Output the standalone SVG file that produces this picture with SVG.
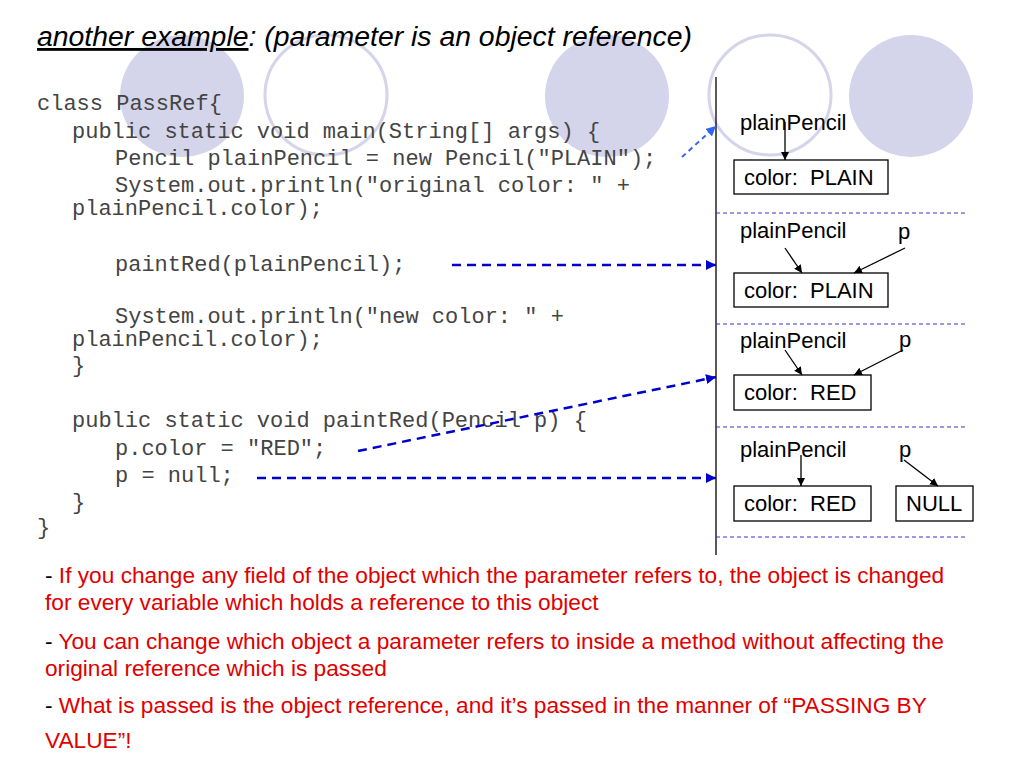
<svg xmlns="http://www.w3.org/2000/svg" width="1024" height="768" viewBox="0 0 1024 768">
<defs>
<style>
.title{font-family:"Liberation Sans",Arial,sans-serif;font-size:28.4px;font-style:italic;fill:#000}
.code{font-family:"Liberation Mono","Courier New",monospace;font-size:22px;fill:#444;white-space:pre}
.lbl{font-family:"Liberation Sans",Arial,sans-serif;font-size:22px;fill:#000;white-space:pre}
.note{font-family:"Liberation Sans",Arial,sans-serif;font-size:22.7px;fill:#e00000}
.dash{fill:#000}
.box{fill:#fff;stroke:#000;stroke-width:1.3}
.ref{stroke:#000;stroke-width:1.3;fill:none;marker-end:url(#ah)}
.sep{stroke:#3333cc;stroke-width:1;stroke-dasharray:4 3;fill:none}
.flow{stroke:#0000cc;stroke-width:2.5;stroke-dasharray:9 6;fill:none;marker-end:url(#bh)}
.deco-f{fill:#d4d4ea}
.deco-o{fill:none;stroke:#d4d4ea;stroke-width:3}
</style>
<marker id="ah" viewBox="0 0 10 10" refX="10" refY="5" markerWidth="8" markerHeight="8" markerUnits="userSpaceOnUse" orient="auto"><path d="M0,0 L10,5 L0,10 z" fill="#000"/></marker>
<marker id="bh" viewBox="0 0 10 10" refX="10" refY="5" markerWidth="4" markerHeight="4" orient="auto"><path d="M0,0 L10,5 L0,10 z" fill="#0000cc"/></marker>
<marker id="lh" viewBox="0 0 10 10" refX="10" refY="5" markerWidth="5" markerHeight="5" orient="auto"><path d="M0,0 L10,5 L0,10 z" fill="#3366ee"/></marker>
</defs>
<rect width="1024" height="768" fill="#fff"/>
<g id="decor">
<ellipse class="deco-f" cx="182" cy="96" rx="62" ry="61"/>
<ellipse class="deco-o" cx="326" cy="95" rx="61" ry="60"/>
<ellipse class="deco-f" cx="607" cy="96" rx="62" ry="61"/>
<ellipse class="deco-o" cx="770" cy="95" rx="61" ry="60"/>
<ellipse class="deco-f" cx="911" cy="96" rx="62" ry="61"/>
</g>
<g id="title">
<text class="title" x="37" y="46"><tspan text-decoration="underline">another example</tspan>: (parameter is an object reference)</text>
</g>
<g id="code">
<text class="code" x="37" y="110">class PassRef{</text>
<text class="code" x="72" y="138">public static void main(String[] args) {</text>
<text class="code" x="115" y="165">Pencil plainPencil = new Pencil("PLAIN");</text>
<text class="code" x="115" y="192">System.out.println("original color: " +</text>
<text class="code" x="72" y="215">plainPencil.color);</text>
<text class="code" x="115" y="271">paintRed(plainPencil);</text>
<text class="code" x="115" y="323">System.out.println("new color: " +</text>
<text class="code" x="72" y="346">plainPencil.color);</text>
<text class="code" x="72" y="372">}</text>
<text class="code" x="72" y="427">public static void paintRed(Pencil p) {</text>
<text class="code" x="115" y="455">p.color = "RED";</text>
<text class="code" x="115" y="482">p = null;</text>
<text class="code" x="72" y="509">}</text>
<text class="code" x="37" y="534">}</text>
</g>
<g id="timeline">
<line x1="716" y1="77" x2="716" y2="555" stroke="#000" stroke-width="1.3"/>
<line class="sep" x1="716" y1="213" x2="965" y2="213"/>
<line class="sep" x1="716" y1="324" x2="965" y2="324"/>
<line class="sep" x1="716" y1="427" x2="965" y2="427"/>
<line class="sep" x1="716" y1="537" x2="965" y2="537"/>
</g>
<g id="state1">
<text class="lbl" x="740" y="130">plainPencil</text>
<rect class="box" x="734" y="160" width="154" height="34"/>
<text class="lbl" x="744" y="185">color:  PLAIN</text>
</g>
<g id="state2">
<text class="lbl" x="740" y="238">plainPencil</text>
<text class="lbl" x="898" y="239">p</text>
<rect class="box" x="734" y="273" width="154" height="34"/>
<text class="lbl" x="744" y="298">color:  PLAIN</text>
</g>
<g id="state3">
<text class="lbl" x="740" y="348">plainPencil</text>
<text class="lbl" x="899" y="347">p</text>
<rect class="box" x="734" y="375" width="137" height="35"/>
<text class="lbl" x="744" y="400">color:  RED</text>
</g>
<g id="state4">
<text class="lbl" x="740" y="457">plainPencil</text>
<text class="lbl" x="899" y="457">p</text>
<rect class="box" x="734" y="486" width="137" height="35"/>
<text class="lbl" x="744" y="511">color:  RED</text>
<rect class="box" x="896" y="486" width="77" height="35"/>
<text class="lbl" x="906" y="511">NULL</text>
</g>
<g id="connectors">
<line class="ref" x1="785" y1="122" x2="785" y2="160"/>
<line class="ref" x1="785" y1="248" x2="802" y2="273"/>
<line class="ref" x1="905" y1="248" x2="854" y2="273"/>
<line class="ref" x1="785" y1="350" x2="802" y2="375"/>
<line class="ref" x1="903" y1="350" x2="854" y2="375"/>
<line class="ref" x1="801" y1="455" x2="801" y2="486"/>
<line class="ref" x1="904" y1="460" x2="938" y2="486"/>
<line x1="682" y1="157" x2="716" y2="126" stroke="#3366ee" stroke-width="2" stroke-dasharray="5 4" marker-end="url(#lh)"/>
<line class="flow" x1="452" y1="265" x2="716" y2="265"/>
<line class="flow" x1="358" y1="451" x2="716" y2="377"/>
<line class="flow" x1="257" y1="478" x2="716" y2="478"/>
</g>
<g id="notes">
<text class="note" x="45" y="583"><tspan class="dash">- </tspan>If you change any field of the object which the parameter refers to, the object is changed</text>
<text class="note" x="45" y="610">for every variable which holds a reference to this object</text>
<text class="note" x="45" y="649"><tspan class="dash">- </tspan>You can change which object a parameter refers to inside a method without affecting the</text>
<text class="note" x="45" y="676">original reference which is passed</text>
<text class="note" x="45" y="713"><tspan class="dash">- </tspan>What is passed is the object reference, and it’s passed in the manner of “PASSING BY</text>
<text class="note" x="45" y="748">VALUE”!</text>
</g>
</svg>
